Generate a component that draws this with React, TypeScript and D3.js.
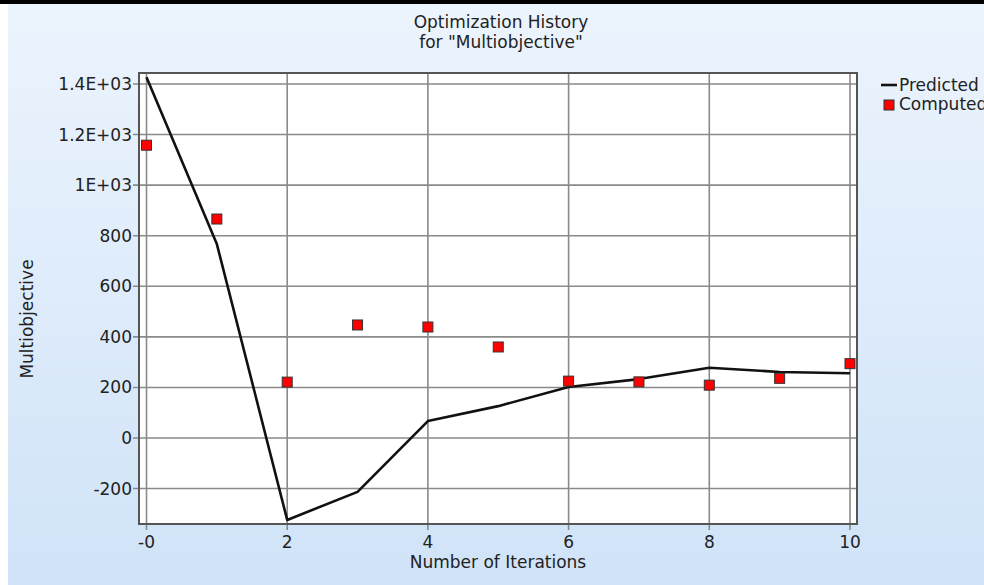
import { useEffect, useRef } from 'react';
import * as d3 from 'd3';

const iterations = [0, 1, 2, 3, 4, 5, 6, 7, 8, 9, 10];
const predicted = [1427, 767, -324, -213, 67, 126, 202, 233, 278, 261, 256];
const computed = [1158, 866, 221, 447, 439, 360, 225, 222, 209, 236, 294];
const xTicks = [0, 2, 4, 6, 8, 10];
const yTicks = [-200, 0, 200, 400, 600, 800, 1000, 1200, 1400];
const yTickLabels = ['-200', '0', '200', '400', '600', '800', '1E+03', '1.2E+03', '1.4E+03'];

const App = () => {
  const ref = useRef<SVGSVGElement>(null!);

  useEffect(() => {
    const width = 984;
    const height = 585;
    const left = 139;
    const right = 857;
    const top = 73;
    const bottom = 524;
    const font = 'DejaVu Sans, sans-serif';
    const fs = 17;

    const svg = d3.select(ref.current).attr('width', width).attr('height', height);

    const defs = svg.append('defs');
    const grad = defs
      .append('linearGradient')
      .attr('id', 'bg')
      .attr('x1', 0)
      .attr('y1', 0)
      .attr('x2', 0)
      .attr('y2', 1);
    grad.append('stop').attr('offset', '0%').attr('stop-color', '#ecf4fd');
    grad.append('stop').attr('offset', '100%').attr('stop-color', '#d0e3f8');

    svg.append('rect').attr('width', width).attr('height', height).attr('fill', '#ffffff');
    svg.append('rect').attr('x', 8).attr('y', 4).attr('width', width - 8).attr('height', height - 4).attr('fill', 'url(#bg)');
    svg.append('rect').attr('x', 0).attr('y', 0).attr('width', width).attr('height', 4).attr('fill', '#000');

    const x = d3.scaleLinear().domain([0, 10]).range([146.5, 850]);
    const y = d3.scaleLinear().domain([0, 1400]).range([438, 84]);

    svg
      .append('rect')
      .attr('x', left)
      .attr('y', top)
      .attr('width', right - left)
      .attr('height', bottom - top)
      .attr('fill', '#ffffff');

    // grid
    const grid = svg.append('g').attr('stroke', '#8a8a8a').attr('stroke-width', 1.6);
    grid
      .selectAll('line.v')
      .data(xTicks)
      .enter()
      .append('line')
      .attr('x1', d => x(d))
      .attr('x2', d => x(d))
      .attr('y1', top)
      .attr('y2', bottom + 6);
    grid
      .selectAll('line.h')
      .data(yTicks)
      .enter()
      .append('line')
      .attr('x1', left - 6)
      .attr('x2', right)
      .attr('y1', d => y(d))
      .attr('y2', d => y(d));

    svg
      .append('rect')
      .attr('x', left)
      .attr('y', top)
      .attr('width', right - left)
      .attr('height', bottom - top)
      .attr('fill', 'none')
      .attr('stroke', '#555')
      .attr('stroke-width', 2);

    // tick labels
    svg
      .append('g')
      .selectAll('text')
      .data(yTicks)
      .enter()
      .append('text')
      .attr('x', left - 7)
      .attr('y', d => y(d))
      .attr('dy', '0.35em')
      .attr('text-anchor', 'end')
      .attr('font-family', font)
      .attr('font-size', fs)
      .attr('fill', '#222')
      .text((d, i) => yTickLabels[i]);

    svg
      .append('g')
      .selectAll('text')
      .data(xTicks)
      .enter()
      .append('text')
      .attr('x', d => x(d))
      .attr('y', bottom + 24)
      .attr('text-anchor', 'middle')
      .attr('font-family', font)
      .attr('font-size', fs)
      .attr('fill', '#222')
      .text(d => (d === 0 ? '-0' : String(d)));

    // line
    const line = d3
      .line<number>()
      .x((d, i) => x(iterations[i]))
      .y(d => y(d));
    svg
      .append('path')
      .datum(predicted)
      .attr('d', line)
      .attr('fill', 'none')
      .attr('stroke', '#111')
      .attr('stroke-width', 2.6)
      .attr('stroke-linejoin', 'round');

    // squares
    const s = 10;
    svg
      .append('g')
      .selectAll('rect')
      .data(computed)
      .enter()
      .append('rect')
      .attr('x', (d, i) => x(iterations[i]) - s / 2)
      .attr('y', d => y(d) - s / 2)
      .attr('width', s)
      .attr('height', s)
      .attr('fill', '#ff0000')
      .attr('stroke', '#333')
      .attr('stroke-width', 1);

    // titles
    const title = svg
      .append('text')
      .attr('text-anchor', 'middle')
      .attr('font-family', font)
      .attr('font-size', fs)
      .attr('fill', '#222');
    title.append('tspan').attr('x', 501).attr('y', 28).text('Optimization History');
    title.append('tspan').attr('x', 501).attr('y', 48).text('for "Multiobjective"');

    svg
      .append('text')
      .attr('x', 498)
      .attr('y', 568)
      .attr('text-anchor', 'middle')
      .attr('font-family', font)
      .attr('font-size', fs)
      .attr('fill', '#222')
      .text('Number of Iterations');

    svg
      .append('text')
      .attr('transform', 'translate(33,319) rotate(-90)')
      .attr('text-anchor', 'middle')
      .attr('font-family', font)
      .attr('font-size', fs)
      .attr('fill', '#222')
      .text('Multiobjective');

    // legend
    svg
      .append('line')
      .attr('x1', 881)
      .attr('x2', 897)
      .attr('y1', 85)
      .attr('y2', 85)
      .attr('stroke', '#111')
      .attr('stroke-width', 2.6);
    svg
      .append('text')
      .attr('x', 899)
      .attr('y', 91)
      .attr('font-family', font)
      .attr('font-size', fs)
      .attr('fill', '#222')
      .text('Predicted');
    svg
      .append('rect')
      .attr('x', 884)
      .attr('y', 100)
      .attr('width', s)
      .attr('height', s)
      .attr('fill', '#ff0000')
      .attr('stroke', '#333');
    svg
      .append('text')
      .attr('x', 899)
      .attr('y', 110)
      .attr('font-family', font)
      .attr('font-size', fs)
      .attr('fill', '#222')
      .text('Computed');

    return () => {
      ref.current.innerHTML = '';
    };
  }, []);

  return <svg ref={ref} style={{ position: 'absolute', left: 0, top: 0, display: 'block' }}></svg>;
};

export default App;
